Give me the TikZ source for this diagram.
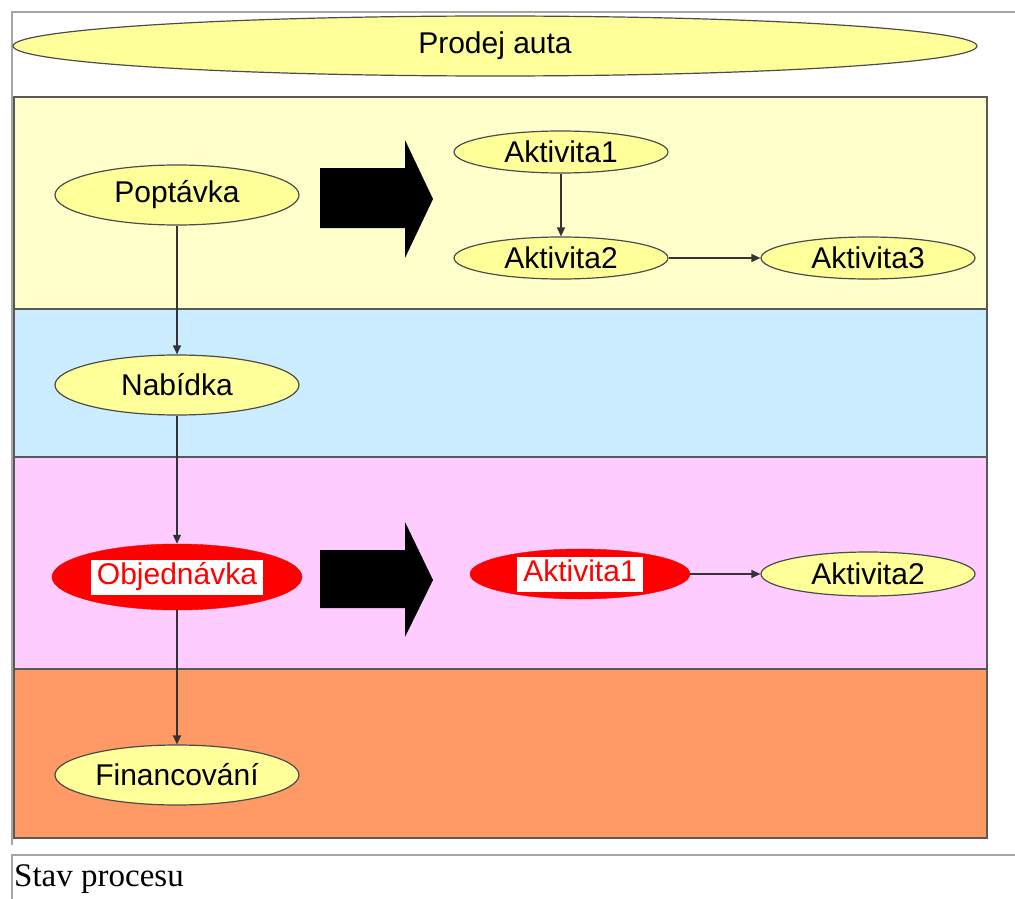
\documentclass[tikz,border=0pt]{standalone}
\usepackage{fontspec}
\setmainfont{Liberation Serif}
\newfontfamily\arialfont{Liberation Sans}
\usepackage{xcolor}
\usetikzlibrary{shapes.geometric,arrows.meta}
\definecolor{state-yellow}{HTML}{FFFF99}
\definecolor{band-yellow}{HTML}{FFFFCC}
\definecolor{band-blue}{HTML}{CCECFF}
\definecolor{band-pink}{HTML}{FFCCFF}
\definecolor{band-orange}{HTML}{FF9966}
\tikzset{
    frame-line/.style = {draw=black!35, line width=2pt},
    band-box/.style = {draw=black!65, line width=1.5pt},
    state-node/.style = {ellipse, draw=black!70, fill=state-yellow, line width=1.2pt, inner sep=0pt, minimum width=244pt, minimum height=60pt, font=\arialfont\fontsize{30}{33}\selectfont},
    activity-node/.style = {state-node, minimum width=214pt, minimum height=42pt},
    red-node/.style = {ellipse, fill=red, draw=red, inner sep=0pt},
    red-label/.style = {fill=white, text=red, inner xsep=6pt, inner ysep=4pt, text height=21pt, text depth=6pt, font=\arialfont\fontsize{30}{33}\selectfont},
    flow-line/.style = {draw=black!80, line width=1.2pt, -{Triangle[length=9pt,width=8pt]}},
    big-arrow/.style = {fill=black},
}

\begin{document}
\begin{tikzpicture}[x=1pt,y=-1pt]
\useasboundingbox (0,0) rectangle (1015,899);
% page frame and caption frame
\draw[frame-line] (1015,12) -- (12,12) -- (12,845);
\draw[frame-line] (1015,855) -- (12,855) -- (12,899);

% swimlane bands
\draw[band-box, fill=band-yellow] (14,97) rectangle (987,309);
\draw[band-box, fill=band-blue] (14,309) rectangle (987,457);
\draw[band-box, fill=band-pink] (14,457) rectangle (987,669);
\draw[band-box, fill=band-orange] (14,669) rectangle (987,838);

\node[state-node, minimum width=964pt, minimum height=60pt] (prodej) at (495,46) {Prodej auta};

\node[state-node] (poptavka) at (177,195) {Popt\'avka};
\node[state-node] (nabidka) at (177,385) {Nab\'idka};
\node[red-node, minimum width=250pt, minimum height=66pt, label={[red-label]center:Objedn\'avka}] (objednavka) at (177,577) {};
\node[state-node] (financovani) at (177,775) {Financov\'an\'i};

\node[activity-node] (akt1) at (561,152) {Aktivita1};
\node[activity-node] (akt2) at (561,258) {Aktivita2};
\node[activity-node] (akt3) at (868,258) {Aktivita3};

\node[red-node, minimum width=220pt, minimum height=50pt, label={[red-label]center:Aktivita1}] (objakt1) at (580,574) {};
\node[activity-node, minimum height=44pt] (objakt2) at (868,574) {Aktivita2};

% block arrows
\fill[big-arrow] (320,168) -- (405,168) -- (405,140) -- (433,199) -- (405,258) -- (405,228) -- (320,228) -- cycle;
\fill[big-arrow] (320,550) -- (405,550) -- (405,522) -- (433,580) -- (405,637) -- (405,608) -- (320,608) -- cycle;

\draw[flow-line] (poptavka) -- (nabidka);
\draw[flow-line] (nabidka) -- (objednavka);
\draw[flow-line] (objednavka) -- (financovani);
\draw[flow-line] (akt1) -- (akt2);
\draw[flow-line] (akt2) -- (akt3);
\draw[flow-line] (objakt1) -- (objakt2);

\node[anchor=base west, inner sep=0pt, font=\fontsize{33}{38}\selectfont] (caption) at (14,886) {Stav procesu};
\end{tikzpicture}
\end{document}
